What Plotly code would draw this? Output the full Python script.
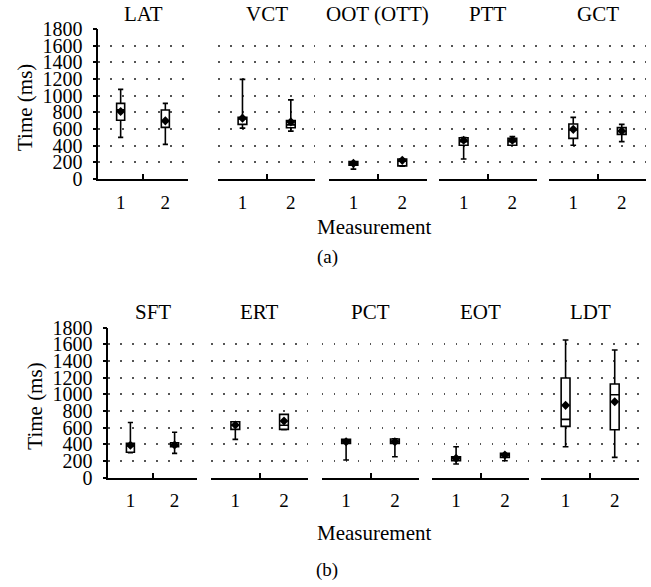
import plotly.graph_objects as go

# ---------------- data ----------------
measurements = ["1", "2"]

groups_a = ["LAT", "VCT", "OOT (OTT)", "PTT", "GCT"]
groups_b = ["SFT", "ERT", "PCT", "EOT", "LDT"]

# per group: [measurement 1, measurement 2]
lower_a  = [[500, 415], [610, 575], [118, 155], [240, 405], [405, 448]]
q1_a     = [[705, 620], [655, 615], [165, 157], [405, 405], [488, 536]]
median_a = [[830, 690], [720, 650], [185, 215], [448, 448], [590, 570]]
q3_a     = [[908, 828], [740, 700], [208, 240], [495, 488], [660, 616]]
upper_a  = [[1075, 908], [1195, 950], [210, 242], [498, 510], [740, 656]]
mean_a   = [[810, 698], [730, 685], [188, 224], [465, 465], [596, 576]]

lower_b  = [[300, 292], [460, 575], [212, 252], [164, 204], [372, 244]]
q1_b     = [[305, 372], [580, 580], [412, 412], [204, 244], [616, 576]]
median_b = [[380, 390], [630, 630], [440, 440], [232, 272], [700, 996]]
q3_b     = [[412, 420], [672, 760], [460, 464], [252, 292], [1196, 1124]]
upper_b  = [[662, 545], [672, 762], [462, 466], [372, 292], [1652, 1532]]
mean_b   = [[390, 392], [632, 680], [432, 432], [232, 272], [868, 912]]

y_ticks = [0, 200, 400, 600, 800, 1000, 1200, 1400, 1600, 1800]

# ---------------- layout geometry (pixels) ----------------
W, H = 651, 587
FONT = "Liberation Serif"
xdom_a = [(98.3, 187.7), (218.3, 315.0), (329.0, 426.7), (439.3, 536.7), (549.0, 646.0)]
xdom_b = [(108.3, 196.7), (211.0, 308.3), (321.7, 419.3), (431.7, 529.3), (541.0, 639.3)]
ydom_a = (29.0, 179.0)
ydom_b = (327.7, 477.7)


def px_x(p):
    return p / W


def px_y(p):
    return 1 - p / H


fig = go.Figure()
layout = {}
annotations = []

panels = [
    (groups_a, lower_a, q1_a, median_a, q3_a, upper_a, mean_a, xdom_a, ydom_a, 0, 1.0),
    (groups_b, lower_b, q1_b, median_b, q3_b, upper_b, mean_b, xdom_b, ydom_b, 5, 2.0),
]

for groups, lo, q1, med, q3, up, mn, xdom, ydom, off, tgap in panels:
    for i, g in enumerate(groups):
        k = off + i + 1
        xa = "x" if k == 1 else f"x{k}"
        ya = "y" if k == 1 else f"y{k}"
        fig.add_trace(go.Box(
            x=measurements, q1=q1[i], median=med[i], q3=q3[i],
            lowerfence=lo[i], upperfence=up[i],
            boxpoints=False, width=0.18, whiskerwidth=0.65,
            fillcolor="white", line=dict(color="black", width=1.6),
            xaxis=xa, yaxis=ya, showlegend=False, hoverinfo="skip",
        ))
        fig.add_trace(go.Scatter(
            x=measurements, y=mn[i], mode="markers",
            marker=dict(symbol="diamond", size=7, color="black"),
            xaxis=xa, yaxis=ya, showlegend=False, hoverinfo="skip",
        ))
        first = (i == 0)
        layout["xaxis" if k == 1 else f"xaxis{k}"] = dict(
            domain=[px_x(xdom[i][0]), px_x(xdom[i][1])],
            anchor=ya, type="category", range=[-0.5, 1.5], automargin=False,
            showline=True, linecolor="black", linewidth=1.5,
            ticks="inside", tickson="boundaries", ticklen=5, tickwidth=1.5,
            tickcolor="black", showgrid=False, zeroline=False,
            tickfont=dict(family=FONT, size=19, color="black"),
            ticklabelstandoff=5,
        )
        layout["yaxis" if k == 1 else f"yaxis{k}"] = dict(
            domain=[px_y(ydom[1]), px_y(ydom[0])],
            anchor=xa, range=[0, 1800], tickvals=y_ticks, automargin=False,
            showticklabels=first, showline=first, linecolor="black", linewidth=1.5,
            ticks="outside" if first else "", ticklen=4, tickwidth=1.5, tickcolor="black",
            showgrid=True, gridcolor="#555555", gridwidth=1.5, griddash="1.5px,10.5px",
            zeroline=False,
            tickfont=dict(family=FONT, size=20, color="black"),
            ticklabelstandoff=6,
        )
        annotations.append(dict(
            text=g, x=px_x((xdom[i][0] + xdom[i][1]) / 2), y=px_y(ydom[0] - tgap),
            xref="paper", yref="paper", xanchor="center", yanchor="bottom",
            showarrow=False, font=dict(family=FONT, size=21, color="black"),
        ))

# axis titles and panel labels
for (ytitle_x, ydom, meas_y, lab, lab_y) in [(25, ydom_a, 227, "(a)", 257), (35, ydom_b, 533, "(b)", 570)]:
    annotations.append(dict(
        text="Time (ms)", x=px_x(ytitle_x), y=px_y((ydom[0] + ydom[1]) / 2 + 4),
        xref="paper", yref="paper", xanchor="center", yanchor="middle",
        textangle=-90, showarrow=False, font=dict(family=FONT, size=21, color="black"),
    ))
    annotations.append(dict(
        text="Measurement", x=px_x(374), y=px_y(meas_y),
        xref="paper", yref="paper", xanchor="center", yanchor="middle",
        showarrow=False, font=dict(family=FONT, size=21, color="black"),
    ))
    annotations.append(dict(
        text=lab, x=px_x(327), y=px_y(lab_y),
        xref="paper", yref="paper", xanchor="center", yanchor="middle",
        showarrow=False, font=dict(family=FONT, size=19, color="black"),
    ))

fig.update_layout(
    width=W, height=H, autosize=False,
    margin=dict(l=0, r=0, t=0, b=0),
    paper_bgcolor="white", plot_bgcolor="white",
    annotations=annotations, showlegend=False,
    **layout,
)

# remove the default page margin so the figure sits at the window's corner
fig.write_html("out.html", config={"displayModeBar": False},
               post_script="document.body.style.margin='0';")
